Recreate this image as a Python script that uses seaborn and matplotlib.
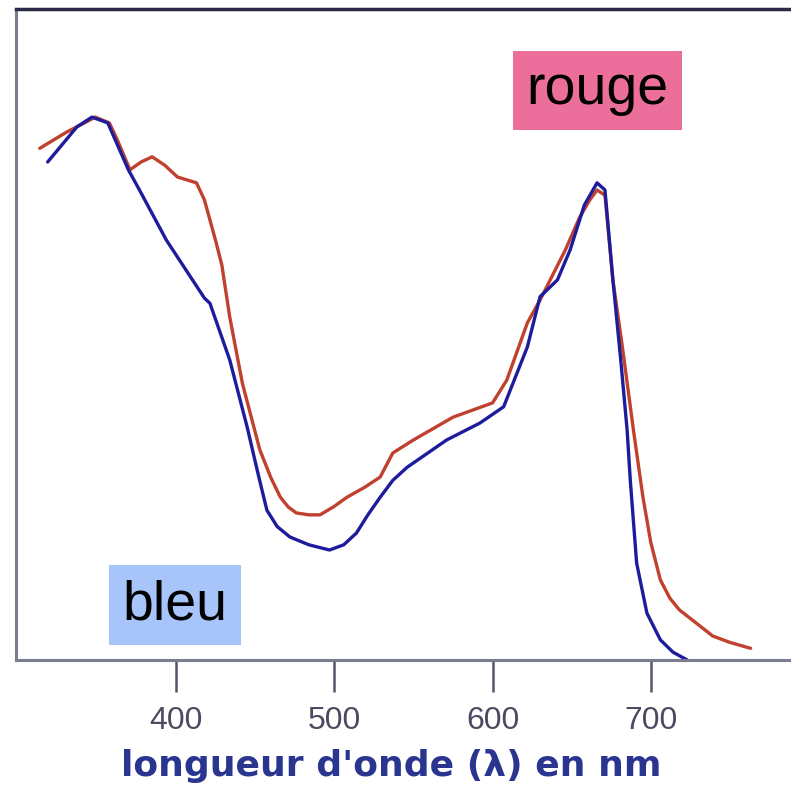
import pandas as pd
import matplotlib.pyplot as plt
import seaborn as sns

# Absorption spectra: wavelength (nm) and relative absorbance
rouge_nm = [314, 331, 343, 349, 358, 363, 371, 378, 385, 393, 401, 413, 418, 425,
            429, 434, 442, 453, 460, 466, 471, 476, 484, 491, 500, 508, 519, 529,
            537, 550, 575, 600, 609, 622, 630, 646, 655, 661.5, 666, 671, 676,
            682, 689, 695, 700, 706, 712, 718, 728, 739, 750, 763]
rouge_abs = [0.786, 0.811, 0.826, 0.834, 0.825, 0.799, 0.753, 0.765, 0.773, 0.760,
             0.742, 0.733, 0.707, 0.645, 0.607, 0.527, 0.425, 0.323, 0.280, 0.250,
             0.235, 0.226, 0.223, 0.223, 0.236, 0.250, 0.265, 0.281, 0.318, 0.338,
             0.373, 0.395, 0.430, 0.518, 0.553, 0.630, 0.680, 0.707, 0.722, 0.714,
             0.584, 0.481, 0.353, 0.250, 0.180, 0.123, 0.095, 0.077, 0.058, 0.037,
             0.027, 0.018]

bleu_nm = [319, 337.5, 347, 357, 370, 377, 394, 418, 421.5, 434, 445, 452, 457.5,
           464, 472, 484, 497, 506, 514, 521, 529, 537, 546, 571, 592, 607, 622,
           630, 641, 649, 658, 666, 671, 676, 681, 685, 687, 691, 697.5, 706, 714,
           723]
bleu_abs = [0.765, 0.819, 0.834, 0.825, 0.753, 0.722, 0.645, 0.556, 0.548, 0.461,
            0.358, 0.285, 0.230, 0.205, 0.189, 0.177, 0.169, 0.177, 0.195, 0.222,
            0.250, 0.276, 0.296, 0.338, 0.364, 0.389, 0.481, 0.558, 0.584, 0.630,
            0.699, 0.733, 0.722, 0.584, 0.460, 0.353, 0.276, 0.149, 0.072, 0.031,
            0.012, 0.0]

ticks_nm = [400, 500, 600, 700]

df = pd.concat([
    pd.DataFrame({'nm': rouge_nm, 'abs': rouge_abs, 'forme': 'rouge'}),
    pd.DataFrame({'nm': bleu_nm, 'abs': bleu_abs, 'forme': 'bleu'}),
], ignore_index=True)

sns.set_style('white')
plt.rcParams['font.family'] = ['Liberation Sans', 'DejaVu Sans']

fig = plt.figure(figsize=(7.91, 7.85), dpi=100)
ax = fig.add_axes([0.0202, 0.1592, 0.9798, 0.8293])

sns.lineplot(data=df, x='nm', y='abs', hue='forme',
             palette={'rouge': '#c0412e', 'bleu': '#1c1c9c'},
             sort=False, estimator=None, linewidth=2.4, legend=False, ax=ax)
for line in ax.lines:
    line.set_clip_on(False)
    line.set_solid_joinstyle('round')

ax.set_xlim(299, 788.5)
ax.set_ylim(0, 1.0)
ax.set_yticks([])
ax.set_ylabel('')
ax.set_xticks(ticks_nm)
ax.tick_params(axis='x', bottom=True, direction='out', length=23, width=1.8,
               color='#55556a', pad=10, labelsize=23, labelcolor='#4a4a60')

ax.spines['right'].set_visible(False)
ax.spines['top'].set_color('#2a2a48')
ax.spines['top'].set_linewidth(2.5)
for side in ['left', 'bottom']:
    ax.spines[side].set_color('#7a7c90')
    ax.spines[side].set_linewidth(2.2)

ax.set_xlabel("longueur d'onde (λ) en nm", fontsize=26, fontweight='bold',
              color='#2a3590', family='DejaVu Sans')
ax.xaxis.set_label_coords(0.484, -0.137)

# labels for the two forms
ax.text(666.3, 0.875, 'rouge', fontsize=40, ha='center', va='center', color='black',
        bbox=dict(boxstyle='square,pad=0.25', fc='#ec6e9b', ec='none'))
ax.text(399.4, 0.0845, 'bleu', fontsize=40, ha='center', va='center', color='black',
        bbox=dict(boxstyle='square,pad=0.25', fc='#a7c5fa', ec='none'))

fig.savefig('out.png', dpi=100)
